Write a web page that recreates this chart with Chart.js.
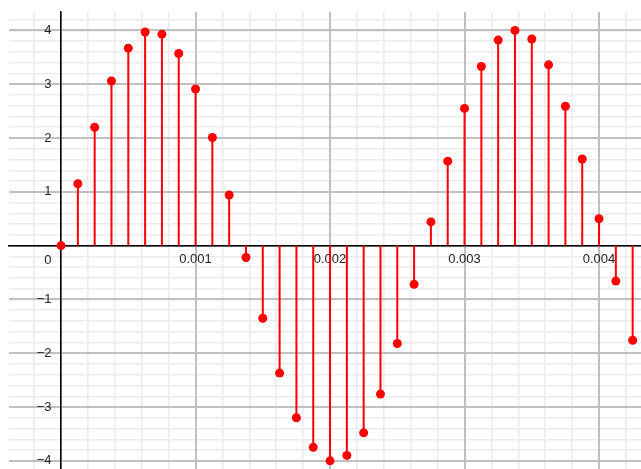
<!DOCTYPE html>
<html>
<head>
<meta charset="utf-8">
<script src="https://cdn.jsdelivr.net/npm/chart.js@4"></script>
<style>
  html, body { margin: 0; padding: 0; background: #ffffff; }
  #wrap { width: 641px; height: 469px; }
</style>
</head>
<body>
<div id="wrap"><canvas id="stemChart" width="641" height="469"></canvas></div>
<script>
// Sample instants (seconds) and sampled amplitudes of the signal
const sampleTimes = [
  0, 0.000125, 0.00025, 0.000375, 0.0005, 0.000625, 0.00075, 0.000875,
  0.001, 0.001125, 0.00125, 0.001375, 0.0015, 0.001625, 0.00175, 0.001875,
  0.002, 0.002125, 0.00225, 0.002375, 0.0025, 0.002625, 0.00275, 0.002875,
  0.003, 0.003125, 0.00325, 0.003375, 0.0035, 0.003625, 0.00375, 0.003875,
  0.004, 0.004125, 0.00425
];
const sampleValues = [
  0, 1.15, 2.20, 3.06, 3.67, 3.97, 3.93, 3.57,
  2.91, 2.01, 0.94, -0.22, -1.35, -2.37, -3.20, -3.75,
  -4.00, -3.90, -3.48, -2.76, -1.82, -0.72, 0.44, 1.57,
  2.55, 3.33, 3.82, 4.00, 3.84, 3.36, 2.59, 1.61,
  0.50, -0.66, -1.76
];

// Labelled axis ticks
const xMajorTicks = [0.001, 0.002, 0.003, 0.004];
const xTickLabels = ['0.001', '0.002', '0.003', '0.004'];
const yMajorTicks = [-4, -3, -2, -1, 1, 2, 3, 4];
const yTickLabels = ['\u22124', '\u22123', '\u22122', '\u22121', '1', '2', '3', '4'];
const originLabel = '0';

// Visible window of the graphing view
const X_MIN = -0.000387, X_MAX = 0.004312;
const Y_MIN = -4.152, Y_MAX = 4.342;
const PAD_LEFT = 9, PAD_TOP = 12;
const CANVAS_W = 641;
// y labels stand a few pixels left of the vertical axis
const Y_LABEL_GAP = 9.5;
const yLabelAnchor = -Y_LABEL_GAP * (X_MAX - X_MIN) / (CANVAS_W - PAD_LEFT);

const LABEL_FONT = { family: '"Liberation Sans", Arial, sans-serif', size: 13 };
const LABEL_COLOR = '#222222';
const MAJOR_GRID = '#c0c0c0';
const MINOR_GRID = '#ececec';
const AXIS_COLOR = '#000000';
const STEM_RED = '#ff0000';

function findTick(list, v, tol) {
  for (let i = 0; i < list.length; i++) {
    if (Math.abs(list[i] - v) < tol) return i;
  }
  return -1;
}

// Axes drawn through the origin take no room from the plotting area
function takeNoSpace(scale) {
  if (scale.isHorizontal()) scale.height = 0; else scale.width = 0;
  scale.paddingTop = scale.paddingBottom = scale.paddingLeft = scale.paddingRight = 0;
}

// Each stem is a vertical segment from the time axis to the sample,
// separated from the next one by a gap.
const stemPoints = [];
sampleTimes.forEach((t, i) => {
  stemPoints.push({ x: t, y: 0 });
  stemPoints.push({ x: t, y: sampleValues[i] });
  stemPoints.push({ x: t, y: null });
});
const headPoints = sampleTimes.map((t, i) => ({ x: t, y: sampleValues[i] }));

// "0" sits at the lower-left of the origin, shared by both axes
const originLabelPlugin = {
  id: 'originLabel',
  beforeDatasetsDraw(chart) {
    const { ctx, scales } = chart;
    ctx.save();
    ctx.font = LABEL_FONT.size + 'px ' + LABEL_FONT.family;
    ctx.fillStyle = LABEL_COLOR;
    ctx.textAlign = 'right';
    ctx.textBaseline = 'middle';
    ctx.fillText(originLabel, scales.x.getPixelForValue(0) - Y_LABEL_GAP, scales.y.getPixelForValue(0) + 14.5);
    ctx.restore();
  }
};

const minorGrid = { color: MINOR_GRID, lineWidth: 1.5, drawTicks: false, z: -2 };
const majorGrid = { color: MAJOR_GRID, lineWidth: 2, drawTicks: false, z: -1 };

new Chart(document.getElementById('stemChart'), {
  type: 'line',
  data: {
    datasets: [
      {
        data: stemPoints,
        borderColor: STEM_RED,
        borderWidth: 2,
        pointRadius: 0,
        pointHoverRadius: 0,
        spanGaps: false,
        tension: 0,
        fill: false
      },
      {
        data: headPoints,
        showLine: false,
        pointRadius: 4.5,
        pointHoverRadius: 4.5,
        pointBackgroundColor: STEM_RED,
        pointBorderWidth: 0,
        borderColor: STEM_RED
      }
    ]
  },
  options: {
    responsive: false,
    animation: false,
    events: [],
    layout: { autoPadding: false, padding: { left: PAD_LEFT, top: PAD_TOP, right: 0, bottom: 0 } },
    plugins: { legend: { display: false }, tooltip: { enabled: false } },
    scales: {
      // fine grid, every 0.0002 s and every 0.2
      xMinor: {
        axis: 'x', type: 'linear', position: { y: 0 },
        min: X_MIN, max: X_MAX,
        border: { display: false },
        grid: minorGrid,
        ticks: { display: false, stepSize: 0.0002, includeBounds: false, autoSkip: false },
        afterFit: takeNoSpace
      },
      yMinor: {
        axis: 'y', type: 'linear', position: { x: 0 },
        min: Y_MIN, max: Y_MAX,
        border: { display: false },
        grid: minorGrid,
        ticks: { display: false, stepSize: 0.2, includeBounds: false, autoSkip: false },
        afterFit: takeNoSpace
      },
      // main time axis with its labels and coarse grid
      x: {
        axis: 'x', type: 'linear', position: { y: 0 },
        min: X_MIN, max: X_MAX,
        border: { display: true, color: AXIS_COLOR, width: 1.5 },
        grid: majorGrid,
        ticks: {
          stepSize: 0.001,
          includeBounds: false,
          autoSkip: false,
          maxRotation: 0,
          padding: 6.5,
          font: LABEL_FONT,
          color: LABEL_COLOR,
          callback: v => {
            const i = findTick(xMajorTicks, v, 1e-9);
            return i >= 0 ? xTickLabels[i] : '';
          }
        },
        afterFit: takeNoSpace
      },
      // amplitude scale: coarse grid and labels, anchored just left of the axis line
      y: {
        axis: 'y', type: 'linear', position: { x: yLabelAnchor },
        min: Y_MIN, max: Y_MAX,
        border: { display: false },
        grid: majorGrid,
        ticks: {
          stepSize: 1,
          includeBounds: false,
          autoSkip: false,
          font: LABEL_FONT,
          color: LABEL_COLOR,
          callback: v => {
            const i = findTick(yMajorTicks, v, 1e-6);
            return i >= 0 ? yTickLabels[i] : '';
          }
        },
        afterFit: takeNoSpace
      },
      // vertical axis line through t = 0
      yAxisLine: {
        axis: 'y', type: 'linear', position: { x: 0 },
        min: Y_MIN, max: Y_MAX,
        border: { display: true, color: AXIS_COLOR, width: 1.5 },
        grid: { display: false, drawTicks: false },
        ticks: { display: false },
        afterFit: takeNoSpace
      }
    }
  },
  plugins: [originLabelPlugin]
});
</script>
</body>
</html>
